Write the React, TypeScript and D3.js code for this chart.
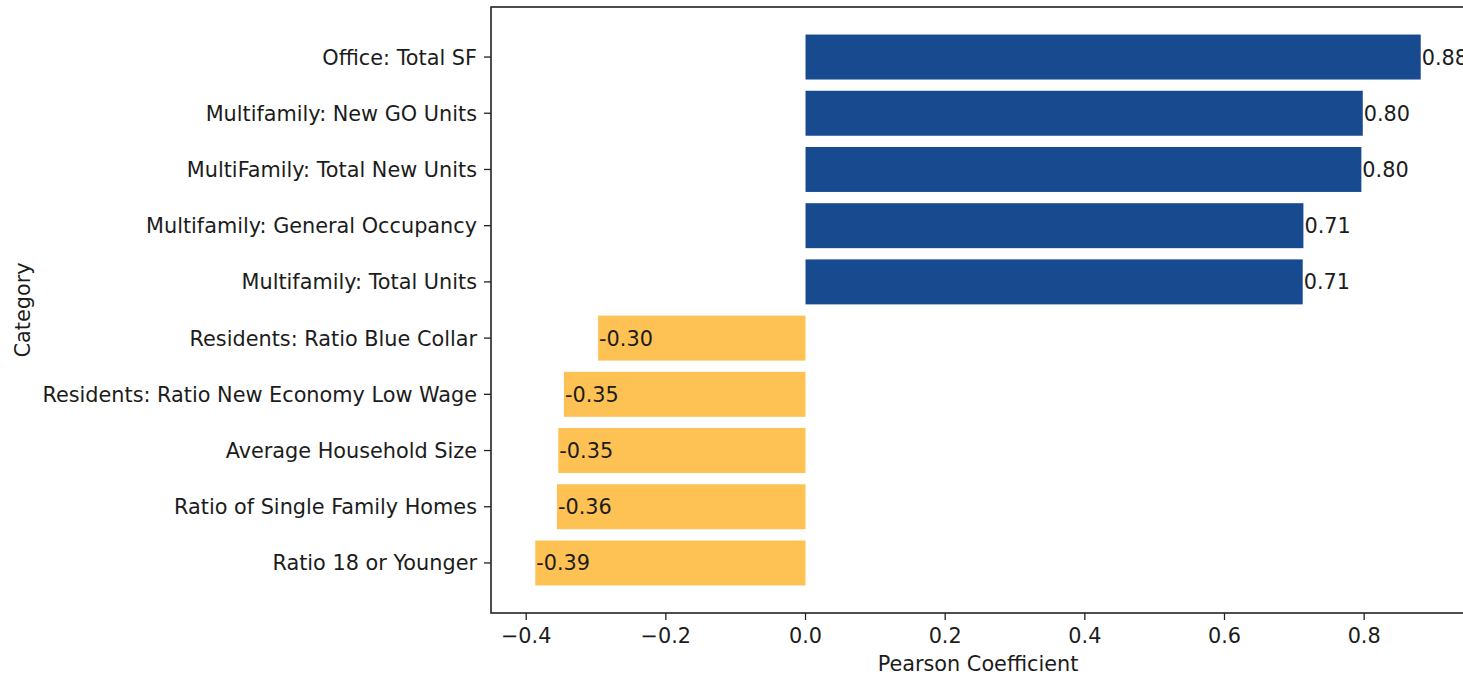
import React, { useEffect, useRef } from "react";
import * as d3 from "d3";

// Categories listed top to bottom, with their Pearson coefficients
const categories: string[] = [
  "Office: Total SF",
  "Multifamily: New GO Units",
  "MultiFamily: Total New Units",
  "Multifamily: General Occupancy",
  "Multifamily: Total Units",
  "Residents: Ratio Blue Collar",
  "Residents: Ratio New Economy Low Wage",
  "Average Household Size",
  "Ratio of Single Family Homes",
  "Ratio 18 or Younger",
];
const coefficients: number[] = [0.881, 0.798, 0.796, 0.713, 0.712, -0.297, -0.346, -0.354, -0.356, -0.387];
const xTicks: number[] = [-0.4, -0.2, 0.0, 0.2, 0.4, 0.6, 0.8];

const WIDTH = 1463;
const HEIGHT = 679;
const FONT = "'DejaVu Sans', sans-serif";
const FS = 20.8;
const POS = "#174a8e";
const NEG = "#fdc253";
const INK = "#1c1c1c";

export default function App() {
  const ref = useRef<SVGSVGElement | null>(null);

  useEffect(() => {
    const svg = d3.select(ref.current);
    svg.selectAll("*").remove();

    const left = 491, right = 1465, top = 7, bottom = 613;
    const n = categories.length;
    const barH = 0.8;
    const yPad = 0.05 * (n - 1 + barH);

    // Matplotlib-style limits: data extent plus a 5% margin
    const lo = d3.min(coefficients)!, hi = d3.max(coefficients)!;
    const m = 0.05 * (hi - Math.min(lo, 0));
    const x = d3.scaleLinear().domain([Math.min(lo, 0) - m, hi + m]).range([left, right]);
    const y = d3.scaleLinear().domain([-barH / 2 - yPad, n - 1 + barH / 2 + yPad]).range([top, bottom]);

    const g = svg.append("g");

    // Bars
    g.selectAll("rect.bar")
      .data(coefficients)
      .join("rect")
      .attr("class", "bar")
      .attr("x", (d) => x(Math.min(0, d)))
      .attr("width", (d) => Math.abs(x(d) - x(0)))
      .attr("y", (_d, i) => y(i - barH / 2))
      .attr("height", (_d, i) => y(i + barH / 2) - y(i - barH / 2))
      .attr("fill", (d) => (d >= 0 ? POS : NEG));

    // Value labels at the bar ends
    g.selectAll("text.val")
      .data(coefficients)
      .join("text")
      .attr("class", "val")
      .attr("x", (d) => x(d) + 1)
      .attr("y", (_d, i) => y(i))
      .attr("dy", "0.36em")
      .attr("font-family", FONT)
      .attr("font-size", FS)
      .attr("fill", INK)
      .text((d) => d3.format(".2f")(d).replace("−", "-"));

    // Frame
    g.append("rect")
      .attr("x", left)
      .attr("y", top)
      .attr("width", right - left)
      .attr("height", bottom - top)
      .attr("fill", "none")
      .attr("stroke", "#222")
      .attr("stroke-width", 1.6);

    // X axis ticks and labels
    const xt = g.selectAll("g.xt").data(xTicks).join("g").attr("class", "xt");
    xt.append("line")
      .attr("x1", (d) => x(d))
      .attr("x2", (d) => x(d))
      .attr("y1", bottom)
      .attr("y2", bottom + 7)
      .attr("stroke", "#222")
      .attr("stroke-width", 1.3);
    xt.append("text")
      .attr("x", (d) => x(d))
      .attr("y", bottom + 30)
      .attr("text-anchor", "middle")
      .attr("font-family", FONT)
      .attr("font-size", FS)
      .attr("fill", INK)
      .text((d) => d3.format(".1f")(d));

    // Y axis ticks and category labels
    const yt = g.selectAll("g.yt").data(categories).join("g").attr("class", "yt");
    yt.append("line")
      .attr("x1", left - 7)
      .attr("x2", left)
      .attr("y1", (_d, i) => y(i))
      .attr("y2", (_d, i) => y(i))
      .attr("stroke", "#222")
      .attr("stroke-width", 1.3);
    yt.append("text")
      .attr("x", left - 14)
      .attr("y", (_d, i) => y(i))
      .attr("dy", "0.36em")
      .attr("text-anchor", "end")
      .attr("font-family", FONT)
      .attr("font-size", FS)
      .attr("fill", INK)
      .text((d) => d);

    // Axis titles
    g.append("text")
      .attr("x", (left + right) / 2)
      .attr("y", 671)
      .attr("text-anchor", "middle")
      .attr("font-family", FONT)
      .attr("font-size", FS)
      .attr("fill", INK)
      .text("Pearson Coefficient");
    g.append("text")
      .attr("transform", `translate(30,${(top + bottom) / 2}) rotate(-90)`)
      .attr("text-anchor", "middle")
      .attr("font-family", FONT)
      .attr("font-size", FS)
      .attr("fill", INK)
      .text("Category");
  }, []);

  return (
    <svg
      ref={ref}
      width={WIDTH}
      height={HEIGHT}
      style={{ position: "absolute", left: 0, top: 0, background: "#fff" }}
    />
  );
}
